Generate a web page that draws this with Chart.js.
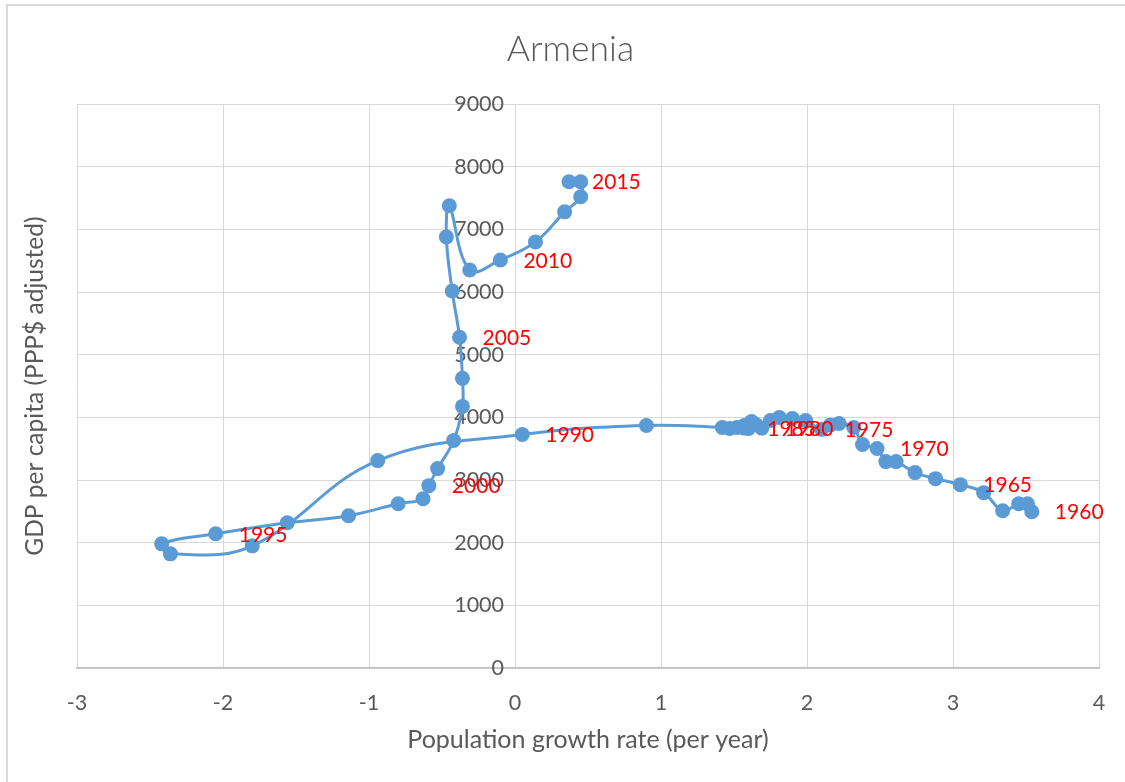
<!DOCTYPE html>
<html><head><meta charset="utf-8">
<script src="https://cdn.jsdelivr.net/npm/chart.js@4/dist/chart.umd.min.js"></script>
<style>
html,body{margin:0;padding:0;background:#fff;overflow:hidden;}
#wrap{position:relative;width:1125px;height:782px;overflow:hidden;}
#frame{position:absolute;left:6px;top:4px;width:1140px;height:800px;border:2px solid #d9d9d9;box-sizing:border-box;pointer-events:none;}
canvas{position:absolute;left:0;top:0;}
</style></head><body>
<div id="wrap"><canvas id="c" width="1125" height="782"></canvas><div id="frame"></div></div>
<script>
// ---- data ----
const chartTitle = 'Armenia';
const xTitle = 'Population growth rate (per year)';
const yTitle = 'GDP per capita (PPP$ adjusted)';
const years = [1960,1961,1962,1963,1964,1965,1966,1967,1968,1969,
               1970,1971,1972,1973,1974,1975,1976,1977,1978,1979,
               1980,1981,1982,1983,1984,1985,1986,1987,1988,1989,
               1990,1991,1992,1993,1994,1995,1996,1997,1998,1999,
               2000,2001,2002,2003,2004,2005,2006,2007,2008,2009,
               2010,2011,2012,2013,2014,2015];
const growth = [3.54,3.51,3.45,3.34,3.21,3.05,2.88,2.74,2.61,2.54,
                2.48,2.38,2.32,2.22,2.16,2.10,1.99,1.90,1.81,1.75,
                1.69,1.65,1.62,1.57,1.60,1.57,1.52,1.47,1.42,0.90,
                0.05,-0.94,-1.80,-2.36,-2.42,-2.05,-1.56,-1.14,-0.80,-0.63,
                -0.59,-0.53,-0.42,-0.36,-0.36,-0.38,-0.43,-0.47,-0.45,-0.31,
                -0.10,0.14,0.34,0.45,0.45,0.37];
const gdp = [2496,2624,2624,2512,2800,2928,3024,3120,3296,3296,
             3504,3568,3840,3904,3880,3810,3952,3984,4000,3952,
             3830,3888,3936,3872,3824,3830,3840,3824,3840,3872,
             3728,3312,1952,1824,1984,2144,2320,2432,2624,2704,
             2912,3184,3632,4176,4624,5280,6016,6880,7376,6352,
             6512,6800,7280,7520,7760,7760];
const labelYears = [1960,1965,1970,1975,1980,1985,1990,1995,2000,2005,2010,2015];
const xTickMin = -3, xTickMax = 4, xTickStep = 1;
const yTickMin = 0, yTickMax = 9000, yTickStep = 1000;

const points = years.map((y, i) => ({x: growth[i], y: gdp[i]}));

const FONT = 'Lato, "Open Sans", sans-serif';
const GREY = '#595959';
const BLUE = '#5b9bd5';

const annot = {
  id: 'annot',
  afterDraw(chart) {
    const ctx = chart.ctx, area = chart.chartArea;
    ctx.save();
    ctx.fillStyle = GREY;
    ctx.textAlign = 'center';
    ctx.textBaseline = 'middle';
    ctx.font = '300 35.5px ' + FONT;
    ctx.fillText(chartTitle, chart.width / 2 + 8, 50);
    ctx.translate(35, (area.top + area.bottom) / 2);
    ctx.rotate(-Math.PI / 2);
    ctx.font = '24.5px ' + FONT;
    ctx.fillText(yTitle, 0, 0);
    ctx.restore();

    const meta = chart.getDatasetMeta(0);
    ctx.save();
    ctx.fillStyle = '#ff0000';
    ctx.font = '21px ' + FONT;
    ctx.textAlign = 'left';
    ctx.textBaseline = 'middle';
    labelYears.forEach(yr => {
      const i = years.indexOf(yr);
      const p = meta.data[i];
      if (p) ctx.fillText(String(yr), p.x + 23, p.y + 1);
    });
    ctx.restore();
  }
};

const noPad = s => { s.paddingLeft = 0; s.paddingRight = 0; s.paddingTop = 0; s.paddingBottom = 0; };

new Chart(document.getElementById('c'), {
  type: 'scatter',
  data: {
    datasets: [{
      data: points,
      showLine: true,
      borderColor: BLUE,
      borderWidth: 3,
      backgroundColor: BLUE,
      pointBackgroundColor: BLUE,
      pointBorderColor: BLUE,
      pointBorderWidth: 0,
      pointRadius: 7.5,
      tension: 0.4
    }]
  },
  options: {
    responsive: false,
    animation: false,
    devicePixelRatio: 1,
    layout: {padding: {left: 77, right: 26, top: 104, bottom: 27}},
    plugins: {legend: {display: false}, tooltip: {enabled: false}, title: {display: false}},
    scales: {
      x: {
        type: 'linear',
        position: 'bottom',
        min: xTickMin, max: xTickMax,
        afterFit: noPad,
        ticks: {stepSize: xTickStep, color: GREY, font: {family: FONT, size: 21.5}, padding: 22},
        grid: {color: '#d9d9d9', drawTicks: false, lineWidth: 1},
        border: {color: '#bfbfbf', width: 1.5},
        title: {display: true, text: xTitle, color: GREY, font: {family: FONT, size: 25}, padding: {top: -13, bottom: 0}}
      },
      y: {
        type: 'linear',
        position: {x: -0.075},
        min: yTickMin, max: yTickMax,
        afterFit: noPad,
        ticks: {stepSize: yTickStep, color: GREY, font: {family: FONT, size: 21.5}, callback: v => String(v)},
        grid: {color: '#d9d9d9', drawTicks: false, lineWidth: 1},
        border: {display: false}
      }
    }
  },
  plugins: [annot]
});
</script>
</body></html>
